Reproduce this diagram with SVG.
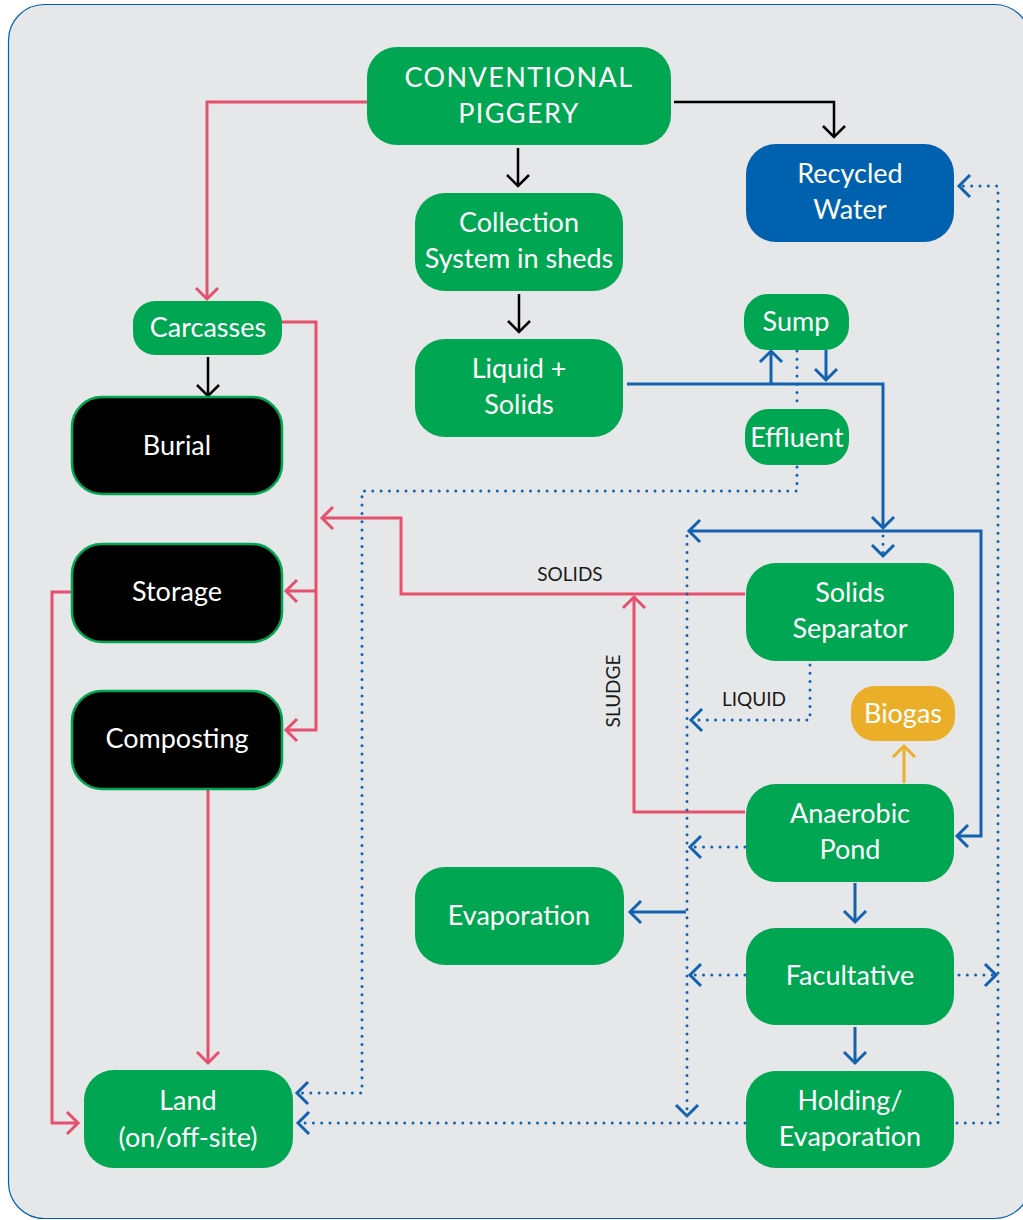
<svg xmlns="http://www.w3.org/2000/svg" width="1023" height="1220" viewBox="0 0 1023 1220">
<style>
.g{fill:#00A651}
.k{fill:#000;stroke:#00A651;stroke-width:2.5}
.b{fill:#0061AF}
.o{fill:#EAAE28}
.t{font-family:Lato,"Noto Sans",sans-serif;font-size:27px;fill:#fff;text-anchor:middle}
.cap{letter-spacing:1.4px}
.lbl{font-family:Lato,"Noto Sans",sans-serif;font-size:19px;fill:#1a1a1a;text-anchor:middle}
.ck{fill:none;stroke:#000;stroke-width:2.5}
.cp{fill:none;stroke:#E5506F;stroke-width:3}
.cb{fill:none;stroke:#1262AF;stroke-width:3}
.cd{fill:none;stroke:#1262AF;stroke-width:3;stroke-dasharray:0 8.3;stroke-linecap:round}
.co{fill:none;stroke:#EAAE28;stroke-width:3}
</style>
<defs>
<marker id="ak" markerUnits="userSpaceOnUse" orient="auto" markerWidth="30" markerHeight="30" viewBox="-15 -15 30 30" refX="0" refY="0"><path d="M-11,-11 L0,0 L-11,11" fill="none" stroke="#000" stroke-width="2.5"/></marker>
<marker id="ap" markerUnits="userSpaceOnUse" orient="auto" markerWidth="30" markerHeight="30" viewBox="-15 -15 30 30" refX="0" refY="0"><path d="M-11,-11 L0,0 L-11,11" fill="none" stroke="#E5506F" stroke-width="3"/></marker>
<marker id="ab" markerUnits="userSpaceOnUse" orient="auto" markerWidth="30" markerHeight="30" viewBox="-15 -15 30 30" refX="0" refY="0"><path d="M-11,-11 L0,0 L-11,11" fill="none" stroke="#1262AF" stroke-width="3"/></marker>
<marker id="ao" markerUnits="userSpaceOnUse" orient="auto" markerWidth="30" markerHeight="30" viewBox="-15 -15 30 30" refX="0" refY="0"><path d="M-11,-11 L0,0 L-11,11" fill="none" stroke="#EAAE28" stroke-width="3"/></marker>
</defs>
<rect x="8.5" y="4.5" width="1022" height="1214" rx="36" fill="#E6E7E9" stroke="#0062AE" stroke-width="1.2"/>

<g id="connectors">
<path class="ck" d="M518,148 V186" marker-end="url(#ak)"/>
<path class="ck" d="M519,294 V332" marker-end="url(#ak)"/>
<path class="ck" d="M674,102 H834 V137" marker-end="url(#ak)"/>
<path class="ck" d="M208,357 V396" marker-end="url(#ak)"/>

<path class="cp" d="M367,102 H207 V299" marker-end="url(#ap)"/>
<path class="cp" d="M282,322 H316 V730 H286" marker-end="url(#ap)"/>
<path class="cp" d="M316,591 H286" marker-end="url(#ap)"/>
<path class="cp" d="M745,594 H401 V518 H322" marker-end="url(#ap)"/>
<path class="cp" d="M745,812 H634 V597" marker-end="url(#ap)"/>
<path class="cp" d="M72,592 H52 V1123 H78" marker-end="url(#ap)"/>
<path class="cp" d="M208,789 V1063" marker-end="url(#ap)"/>

<path class="cb" d="M627,384 H883 V528" marker-end="url(#ab)"/>
<path class="cb" d="M771,384 V351" marker-end="url(#ab)"/>
<path class="cb" d="M826,350 V380" marker-end="url(#ab)"/>
<path class="cb" d="M883,531 H689" marker-end="url(#ab)"/>
<path class="cb" d="M883,531 H981 V836 H957" marker-end="url(#ab)"/>
<path class="cb" d="M855,883 V922" marker-end="url(#ab)"/>
<path class="cb" d="M855,1027 V1063" marker-end="url(#ab)"/>
<path class="cb" d="M686,912 H630" marker-end="url(#ab)"/>

<path class="cd" d="M797,351 V407"/>
<path class="cd" d="M797,467 V491 H362 V1093 H297" marker-end="url(#ab)"/>
<path class="cd" d="M883,536 V556" marker-end="url(#ab)"/>
<path class="cd" d="M687,536 V1116" marker-end="url(#ab)"/>
<path class="cd" d="M810,665 V720 H691" marker-end="url(#ab)"/>
<path class="cd" d="M745,847 H690" marker-end="url(#ab)"/>
<path class="cd" d="M745,975 H690" marker-end="url(#ab)"/>
<path class="cd" d="M959,975 H996" marker-end="url(#ab)"/>
<path class="cd" d="M957,1123 H998 V186 H959" marker-end="url(#ab)"/>
<path class="cd" d="M745,1123 H298" marker-end="url(#ab)"/>

<path class="co" d="M904,783 V746" marker-end="url(#ao)"/>

<text class="lbl" x="570" y="581">SOLIDS</text>
<text class="lbl" x="754" y="706">LIQUID</text>
<text class="lbl" transform="translate(620,691) rotate(-90)">SLUDGE</text>
</g>

<g id="piggery"><rect class="g" x="367" y="47" width="304" height="98" rx="30"/><text class="t cap" x="519" y="87">CONVENTIONAL</text><text class="t cap" x="519" y="123">PIGGERY</text></g>
<g id="recycled"><rect class="b" x="746" y="144" width="208" height="98" rx="30"/><text class="t" x="850" y="183">Recycled</text><text class="t" x="850" y="219">Water</text></g>
<g id="collection"><rect class="g" x="415" y="193" width="208" height="98" rx="30"/><text class="t" x="519" y="232">Collection</text><text class="t" x="519" y="268">System in sheds</text></g>
<g id="liquid"><rect class="g" x="415" y="339" width="208" height="98" rx="30"/><text class="t" x="519" y="378">Liquid +</text><text class="t" x="519" y="414">Solids</text></g>
<g id="carcasses"><rect class="g" x="133" y="301" width="149" height="54" rx="22"/><text class="t" x="208" y="337">Carcasses</text></g>
<g id="burial"><rect class="k" x="72" y="397" width="210" height="97" rx="30"/><text class="t" x="177" y="455">Burial</text></g>
<g id="storage"><rect class="k" x="72" y="544" width="210" height="98" rx="30"/><text class="t" x="177" y="601">Storage</text></g>
<g id="composting"><rect class="k" x="72" y="691" width="210" height="98" rx="30"/><text class="t" x="177" y="748">Composting</text></g>
<g id="land"><rect class="g" x="84" y="1070" width="209" height="98" rx="30"/><text class="t" x="188" y="1110">Land</text><text class="t" x="188" y="1147">(on/off-site)</text></g>
<g id="sump"><rect class="g" x="744" y="294" width="105" height="56" rx="24"/><text class="t" x="796" y="331">Sump</text></g>
<g id="effluent"><rect class="g" x="745" y="409" width="104" height="56" rx="24"/><text class="t" x="797" y="447">Effluent</text></g>
<g id="separator"><rect class="g" x="746" y="563" width="208" height="98" rx="30"/><text class="t" x="850" y="602">Solids</text><text class="t" x="850" y="638">Separator</text></g>
<g id="biogas"><rect class="o" x="851" y="686" width="104" height="55" rx="24"/><text class="t" x="903" y="723">Biogas</text></g>
<g id="anaerobic"><rect class="g" x="746" y="784" width="208" height="98" rx="30"/><text class="t" x="850" y="823">Anaerobic</text><text class="t" x="850" y="859">Pond</text></g>
<g id="evaporation"><rect class="g" x="415" y="867" width="209" height="98" rx="30"/><text class="t" x="519" y="925">Evaporation</text></g>
<g id="facultative"><rect class="g" x="746" y="928" width="208" height="97" rx="30"/><text class="t" x="850" y="985">Facultative</text></g>
<g id="holding"><rect class="g" x="746" y="1071" width="208" height="97" rx="30"/><text class="t" x="850" y="1110">Holding/</text><text class="t" x="850" y="1146">Evaporation</text></g>
</svg>
